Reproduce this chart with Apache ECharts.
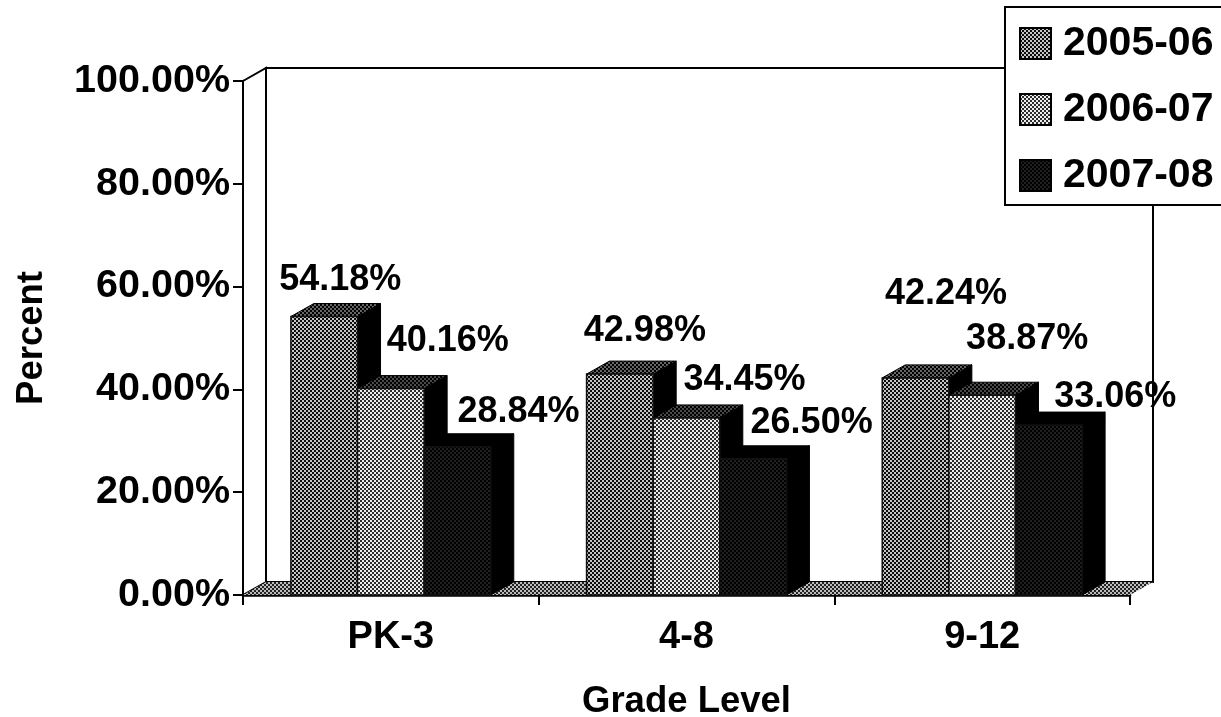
<!DOCTYPE html>
<html>
<head>
<meta charset="utf-8">
<style>html,body{margin:0;padding:0;background:#fff;overflow:hidden}#c{width:1221px;height:717px}</style>
<script src="https://cdn.jsdelivr.net/npm/echarts@6/dist/echarts.min.js"></script>
</head>
<body>
<div id="c"></div>
<script>
const categories = ['PK-3', '4-8', '9-12'];
const seriesNames = ['2005-06', '2006-07', '2007-08'];
const values2005 = [54.18, 42.98, 42.24];
const values2006 = [40.16, 34.45, 38.87];
const values2007 = [28.84, 26.50, 33.06];
const yTicks = [0, 20, 40, 60, 80, 100];

const FONT = '"Liberation Sans", Arial, sans-serif';
const DEPTH_X = 23, DEPTH_Y = 13, BAND_FILL = 0.676;

function stipple(fg, bg, cell) {
  const c = document.createElement('canvas');
  c.width = c.height = cell * 2;
  const g = c.getContext('2d');
  g.fillStyle = bg; g.fillRect(0, 0, c.width, c.height);
  g.fillStyle = fg;
  g.fillRect(0, 0, cell, cell);
  g.fillRect(cell, cell, cell, cell);
  return { image: c, repeat: 'repeat' };
}
const patterns = [
  stipple('#0c0c0c', '#c4c4c4', 2),
  stipple('#2c2c2c', '#ececec', 2),
  stipple('#000', '#202020', 2)
];
const topFaces = [stipple('#000', '#666', 2), stipple('#000', '#4a4a4a', 2), stipple('#000', '#000', 2)];
const sideFill = '#000';
const floorFill = stipple('#222', '#bcbcbc', 2);

// label placement relative to the top centre of each bar's front face: [series][category]
const labelNudge = [
  [[16, -36], [25, -43], [30.5, -84]],
  [[57, -47], [58, -38], [45, -56]],
  [[61, -35], [58.5, -36], [66.5, -28]]
];

function wallRender(params, api) {
  const r = params.coordSys;
  const x0 = r.x, x1 = r.x + r.width, yT = r.y, yB = r.y + r.height;
  const dx = DEPTH_X, dy = DEPTH_Y;
  const line = { stroke: '#000', lineWidth: 2, fill: '#fff' };
  return {
    type: 'group',
    children: [
      { type: 'polygon', shape: { points: [[x0 + dx, yT - dy], [x1 + dx, yT - dy], [x1 + dx, yB - dy], [x0 + dx, yB - dy]] }, style: line },
      { type: 'polygon', shape: { points: [[x0, yT], [x0 + dx, yT - dy], [x0 + dx, yB - dy], [x0, yB]] }, style: line },
      { type: 'polygon', shape: { points: [[x0, yB], [x0 + dx, yB - dy], [x1 + dx, yB - dy], [x1, yB]] }, style: { fill: floorFill } }
    ]
  };
}

function barRender(idx) {
  return function (params, api) {
    const cat = api.value(0), val = api.value(1);
    const top = api.coord([cat, val]);
    const base = api.coord([cat, 0]);
    const band = api.size([1, 0])[0];
    const w = band * BAND_FILL / 3;
    const xL = top[0] + (idx - 1.5) * w;
    const xR = xL + w, yT = top[1], yB = base[1];
    const dx = DEPTH_X, dy = DEPTH_Y;
    const nudge = labelNudge[idx][cat];
    return {
      type: 'group',
      children: [
        { type: 'polygon', shape: { points: [[xR, yT], [xR + dx, yT - dy], [xR + dx, yB - dy], [xR, yB]] }, style: { fill: sideFill, stroke: '#000', lineWidth: 1 } },
        { type: 'polygon', shape: { points: [[xL, yT], [xL + dx, yT - dy], [xR + dx, yT - dy], [xR, yT]] }, style: { fill: topFaces[idx], stroke: '#000', lineWidth: 1 } },
        { type: 'rect', shape: { x: xL, y: yT, width: w, height: yB - yT }, style: { fill: patterns[idx], stroke: '#111', lineWidth: 1.5 } },
        { type: 'text', z2: 100, style: { text: val.toFixed(2) + '%', x: xL + w / 2 + nudge[0], y: yT + nudge[1], align: 'center', verticalAlign: 'middle', font: 'bold 36px ' + FONT, fill: '#000' } }
      ]
    };
  };
}

const allValues = [values2005, values2006, values2007];
const chart = echarts.init(document.getElementById('c'), null, { renderer: 'canvas' });
chart.setOption({
  animation: false,
  backgroundColor: '#fff',
  grid: { left: 243, right: 91, top: 81, bottom: 122, outerBoundsMode: 'none', containLabel: false },
  xAxis: {
    type: 'category',
    data: categories,
    boundaryGap: true,
    axisLine: { lineStyle: { color: '#000', width: 2.5 } },
    axisTick: { show: true, length: 10, lineStyle: { color: '#000', width: 2 } },
    axisLabel: { color: '#000', fontFamily: FONT, fontWeight: 'bold', fontSize: 38, margin: 24 },
    name: 'Grade Level',
    nameLocation: 'middle',
    nameGap: 88,
    nameTextStyle: { color: '#000', fontFamily: FONT, fontWeight: 'bold', fontSize: 36.5 }
  },
  yAxis: {
    type: 'value',
    min: 0, max: 100, interval: 20,
    splitLine: { show: false },
    axisLine: { show: true, lineStyle: { color: '#000', width: 2.5 } },
    axisTick: { show: true, length: 10, lineStyle: { color: '#000', width: 2 } },
    axisLabel: { color: '#000', fontFamily: FONT, fontWeight: 'bold', fontSize: 39.5, margin: 13,
      padding: [4, 0, 0, 0],
      formatter: v => yTicks.includes(v) ? v.toFixed(2) + '%' : '' },
    name: 'Percent',
    nameLocation: 'middle',
    nameGap: 193,
    nameRotate: 90,
    nameTextStyle: { color: '#000', fontFamily: FONT, fontWeight: 'bold', fontSize: 36.5 }
  },
  legend: {
    show: true,
    orient: 'vertical',
    left: 1005, top: 7,
    padding: [16, 40, 9, 14],
    backgroundColor: '#fff',
    borderColor: '#000',
    borderWidth: 2,
    itemWidth: 31, itemHeight: 31, itemGap: 25,
    textStyle: { color: '#000', fontFamily: FONT, fontWeight: 'bold', fontSize: 41, padding: [0, 0, 0, 7] },
    data: seriesNames.map((n, i) => ({ name: n, icon: 'rect', itemStyle: { color: patterns[i], borderColor: '#000', borderWidth: 2 } }))
  },
  series: [
    { type: 'custom', name: '__walls', silent: true, renderItem: wallRender, data: [[0, 0]], encode: { x: 0, y: 1 }, clip: false, z: 1 }
  ].concat(seriesNames.map((n, i) => ({
    type: 'custom',
    name: n,
    renderItem: barRender(i),
    data: categories.map((c, k) => [k, allValues[i][k]]),
    encode: { x: 0, y: 1 },
    itemStyle: { color: patterns[i] },
    clip: false,
    z: 2 + i
  })))
});
</script>
</body>
</html>
